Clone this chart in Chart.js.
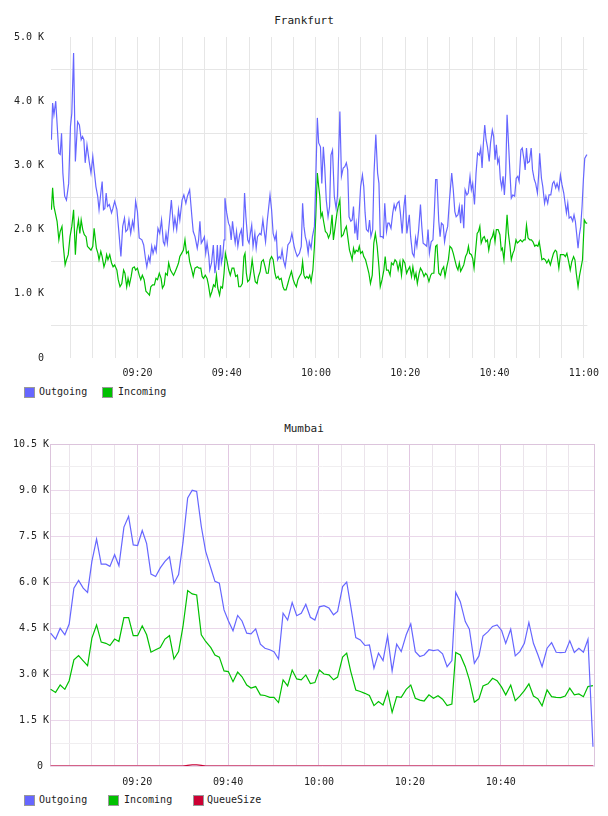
<!DOCTYPE html>
<html>
<head>
<meta charset="utf-8">
<script src="https://cdn.jsdelivr.net/npm/chart.js@4.4.1/dist/chart.umd.min.js"></script>
<style>
  body { margin: 0; background: #fff; }
  #wrap { position: relative; width: 608px; height: 816px; font-family: "DejaVu Sans Mono", monospace; color: #222; }
  canvas { position: absolute; left: 0; }
  .title { position: absolute; left: 0; width: 608px; text-align: center; font-size: 11px; line-height: 13px; }
  .box { position: absolute; width: 9px; height: 9px; border: 1px solid #999; }
  .lbl { position: absolute; font-size: 10px; line-height: 12px; }
</style>
</head>
<body>
<div id="wrap">
  <div class="title" style="top:14px">Frankfurt</div>
  <canvas id="ffm" width="608" height="385" style="top:0"></canvas>
  <div class="box" style="left:24px;top:387px;background:#6666ff"></div><span class="lbl" style="left:39px;top:386px">Outgoing</span>
  <div class="box" style="left:102px;top:387px;background:#00c000"></div><span class="lbl" style="left:118px;top:386px">Incoming</span>

  <div class="title" style="top:422px">Mumbai</div>
  <canvas id="bom" width="608" height="385" style="top:405px"></canvas>
  <div class="box" style="left:24px;top:795px;background:#6666ff"></div><span class="lbl" style="left:39px;top:794px">Outgoing</span>
  <div class="box" style="left:108px;top:795px;background:#00c000"></div><span class="lbl" style="left:124px;top:794px">Incoming</span>
  <div class="box" style="left:193px;top:795px;background:#cc0033"></div><span class="lbl" style="left:207px;top:794px">QueueSize</span>
</div>
<script>
// minutes after 09:00, values in K
const ffmOutT = [0.74,1.0,1.3,1.7,2.4,2.7,3.0,3.3,3.7,4.1,4.6,5.0,5.3,5.7,6.1,6.6,7.0,7.4,7.7,8.0,8.3,8.7,9.2,9.6,10.0,10.3,10.7,11.1,11.4,11.8,12.1,12.4,12.7,13.0,13.3,13.7,14.2,14.5,14.9,15.4,15.8,16.3,16.7,17.1,17.4,17.8,18.1,18.5,18.9,19.2,19.6,20.0,20.4,21.0,21.4,21.8,22.1,22.5,22.8,23.2,23.5,23.9,24.2,24.6,25.0,25.4,25.8,26.1,26.4,26.7,27.2,27.6,28.1,28.4,28.8,29.2,29.5,30.0,30.4,30.85,31.2,31.7,32.2,32.5,32.9,33.4,33.7,34.0,34.3,34.7,35.0,35.3,35.6,36.0,36.2,36.6,37.0,37.35,37.7,37.9,38.2,38.6,38.8,39.1,39.4,39.6,40.0,40.4,40.7,41.0,41.3,41.6,41.9,42.2,42.5,42.9,43.3,43.6,44.0,44.3,44.7,45.0,45.3,45.6,45.9,46.3,46.6,46.9,47.4,47.7,48.1,48.4,48.7,49.1,49.7,50.05,50.4,50.8,51.1,51.4,51.75,52.1,52.4,52.7,53.1,53.4,53.7,54.2,54.6,55.1,55.4,55.8,56.3,56.7,57.0,57.3,57.6,57.9,58.25,58.5,58.9,59.2,59.65,59.95,60.3,60.6,61.0,61.3,61.65,61.95,62.3,62.7,63.05,63.35,63.7,64.1,64.5,64.8,65.35,65.7,66.1,66.45,66.8,67.1,67.4,67.8,68.1,68.4,68.7,69.0,69.3,69.7,70.0,70.4,70.7,71.0,71.3,71.7,72.0,72.3,72.7,73.0,73.4,73.8,74.1,74.4,74.8,75.1,75.4,75.8,76.1,76.4,76.8,77.2,77.5,77.8,78.2,78.6,78.9,79.3,79.7,80.0,80.35,80.6,80.9,81.2,81.6,81.96,82.3,82.6,83.0,83.4,83.7,84.0,84.5,84.8,85.1,85.4,85.8,86.2,86.5,86.8,87.1,87.5,87.8,88.1,88.5,88.8,89.1,89.5,89.9,90.4,90.75,91.1,91.4,91.8,92.1,92.4,92.7,93.1,93.4,93.8,94.1,94.5,94.8,95.1,95.5,95.85,96.2,96.6,96.9,97.2,97.5,97.8,98.1,98.4,98.8,99.1,99.5,99.8,100.1,100.4,100.7,101.0,101.3,101.6,101.9,102.2,102.5,102.8,103.2,103.45,103.75,104.1,104.5,104.85,105.2,105.5,105.9,106.2,106.6,106.85,107.15,107.4,107.8,108.2,108.5,108.9,109.2,109.6,109.9,110.1,110.5,110.8,111.2,111.5,111.9,112.2,112.6,113.0,113.3,113.7,114.0,114.4,114.75,115.1,115.5,115.8,116.1,116.4,116.7,117.1,117.5,117.8,118.1,118.45,118.7,119.0,119.3,119.6,119.9,120.2,120.6,120.8];
const ffmOutK = [3.40,3.97,3.79,4.0,3.19,3.17,3.5,2.88,2.52,2.46,2.72,3.61,3.81,4.75,3.06,3.68,3.63,3.40,3.45,3.40,3.04,3.32,3.06,2.88,3.14,2.93,2.67,2.52,2.31,2.57,2.75,2.31,2.33,2.57,2.36,2.39,2.26,2.33,2.44,2.31,2.0,1.58,2.05,2.18,1.97,2.0,2.15,1.94,2.13,2.02,2.44,2.28,1.87,1.84,1.76,1.55,1.42,1.58,1.50,1.74,1.63,1.74,1.66,2.02,1.94,2.15,1.81,1.76,1.94,1.79,2.15,2.46,2.02,2.18,2.0,2.31,2.15,2.46,2.54,2.41,2.52,2.62,2.20,1.97,1.89,1.71,1.84,2.13,1.79,1.84,1.89,1.63,1.79,1.58,1.37,1.48,1.76,1.32,1.50,1.76,1.37,1.76,1.48,1.58,1.84,2.49,2.26,2.10,2.05,1.84,2.13,1.94,1.79,1.97,1.74,1.92,2.0,1.74,2.57,2.20,1.84,1.79,1.94,2.07,1.74,1.94,1.71,1.89,1.94,1.92,2.15,1.97,1.81,2.15,2.54,2.31,1.94,1.84,1.94,1.53,1.58,1.55,1.68,1.53,1.42,1.58,1.76,1.81,1.94,1.74,1.66,1.58,1.63,1.74,2.41,2.05,1.89,1.81,1.63,1.81,1.71,1.89,2.05,2.78,3.74,3.35,3.29,2.72,3.29,2.98,2.46,2.20,2.36,3.16,3.24,2.52,2.33,2.52,3.84,2.83,2.96,2.98,3.04,2.93,2.20,2.13,2.15,2.36,1.94,2.10,1.84,2.31,2.67,2.85,2.67,2.26,2.0,1.97,2.15,1.89,2.0,2.88,3.48,2.88,2.72,1.89,1.89,1.87,2.41,1.97,2.10,2.10,2.02,2.26,2.39,2.31,2.41,2.44,2.26,1.94,2.36,2.54,1.94,2.07,2.23,1.89,1.63,1.58,1.87,1.74,2.0,2.39,2.05,1.79,1.76,1.74,2.0,1.63,1.81,1.84,2.26,2.78,2.78,2.13,1.89,2.10,2.07,1.81,1.94,2.05,2.46,2.88,2.62,2.28,2.20,2.23,2.36,2.10,2.39,2.02,2.62,2.54,2.57,2.83,2.62,2.72,2.39,2.88,3.19,3.16,3.27,2.96,3.35,3.63,3.40,3.29,3.06,3.35,3.55,3.45,3.09,3.32,3.04,3.11,2.78,2.65,2.83,2.54,2.88,3.79,3.24,2.88,2.49,2.54,2.52,2.80,2.83,2.75,3.24,3.27,3.09,2.93,3.27,3.04,3.06,3.27,2.93,2.78,2.72,2.57,2.88,3.19,2.80,2.67,2.41,2.52,2.41,2.54,2.54,2.72,2.75,2.65,2.72,2.62,2.85,2.70,2.57,2.41,2.26,2.41,2.18,2.20,2.13,2.23,2.13,1.89,1.71,1.92,2.05,2.36,2.78,3.11,3.16,3.16];
const ffmInT = [0.74,1.0,1.3,1.6,2.0,2.4,2.7,3.1,3.4,3.8,4.1,4.5,4.9,5.3,5.7,6.1,6.4,6.8,7.1,7.4,7.75,8.1,8.5,8.8,9.2,9.6,10.0,10.3,10.8,11.15,11.4,11.8,12.1,12.5,12.85,13.1,13.4,13.8,14.2,14.55,14.9,15.4,15.7,16.1,16.5,16.9,17.2,17.6,17.9,18.2,18.6,18.9,19.3,19.6,20.0,20.4,20.75,21.1,21.5,21.9,22.3,22.7,23.0,23.4,23.8,24.15,24.5,24.9,25.3,25.6,26.0,26.3,26.7,27.0,27.4,27.8,28.1,28.5,28.9,29.2,29.5,29.9,30.3,30.65,31.0,31.4,31.7,32.2,32.5,32.9,33.4,33.8,34.2,34.5,34.8,35.2,35.6,35.9,36.3,36.7,37.05,37.4,37.7,38.0,38.4,38.7,39.05,39.4,39.7,40.1,40.45,40.8,41.2,41.6,42.0,42.4,42.7,43.1,43.5,43.85,44.1,44.4,44.7,45.1,45.4,45.7,46.1,46.4,46.8,47.1,47.5,47.8,48.2,48.6,48.9,49.3,49.7,50.05,50.4,50.8,51.1,51.5,51.8,52.2,52.6,52.9,53.3,53.7,54.0,54.5,54.9,55.2,55.6,55.95,56.3,56.7,57.0,57.3,57.6,57.95,58.3,58.6,58.9,59.3,59.65,59.95,60.3,60.6,60.85,61.1,61.4,61.7,62.1,62.5,62.8,63.2,63.6,63.9,64.3,64.7,65.0,65.35,65.7,66.1,66.45,66.8,67.2,67.5,67.8,68.1,68.4,68.7,69.0,69.4,69.7,70.0,70.4,70.7,71.1,71.5,71.85,72.2,72.6,72.95,73.3,73.7,74.1,74.4,74.8,75.2,75.5,75.8,76.2,76.6,76.9,77.3,77.7,78.05,78.4,78.8,79.15,79.5,79.9,80.3,80.6,81.0,81.4,81.7,82.1,82.4,82.7,83.1,83.4,83.8,84.2,84.55,84.9,85.3,85.7,86.0,86.4,86.8,87.1,87.5,87.9,88.2,88.6,88.9,89.3,89.65,90.0,90.4,90.75,91.1,91.5,91.8,92.1,92.4,92.75,93.1,93.5,93.85,94.15,94.4,94.8,95.1,95.4,95.7,96.1,96.4,96.7,97.0,97.4,97.7,98.05,98.4,98.7,99.1,99.5,99.8,100.1,100.4,100.8,101.2,101.5,101.75,102.1,102.5,102.8,103.1,103.45,103.75,104.1,104.4,104.8,105.1,105.4,105.8,106.2,106.55,106.85,107.15,107.5,107.9,108.25,108.6,109.0,109.3,109.7,110.0,110.3,110.6,111.0,111.35,111.7,112.1,112.5,112.8,113.2,113.6,113.9,114.4,114.75,115.1,115.5,115.85,116.2,116.6,116.95,117.3,117.7,118.0,118.3,118.7,119.0,119.4,119.7,119.9,120.1,120.5,120.8];
const ffmInK = [2.31,2.65,2.36,2.26,2.13,1.84,1.97,2.05,1.74,1.45,1.53,1.61,1.89,2.05,2.31,1.61,1.97,2.15,1.94,2.15,2.0,1.92,1.89,1.74,1.71,1.68,1.74,2.02,1.71,1.63,1.53,1.66,1.58,1.42,1.50,1.61,1.53,1.61,1.48,1.42,1.45,1.37,1.22,1.11,1.16,1.37,1.32,1.11,1.24,1.14,1.27,1.40,1.42,1.37,1.40,1.29,1.22,1.29,1.22,1.04,1.01,0.98,1.11,1.14,1.14,1.24,1.22,1.32,1.24,1.09,1.14,1.32,1.29,1.48,1.37,1.32,1.29,1.35,1.42,1.48,1.58,1.63,1.68,1.84,1.63,1.66,1.50,1.37,1.27,1.40,1.42,1.40,1.40,1.27,1.24,1.29,1.24,1.14,0.96,1.04,1.14,1.11,1.29,1.09,0.98,1.11,1.09,1.32,1.63,1.50,1.37,1.29,1.40,1.40,1.27,1.29,1.11,1.11,1.16,1.58,1.63,1.32,1.19,1.22,1.35,1.53,1.32,1.19,1.16,1.27,1.35,1.50,1.53,1.42,1.32,1.32,1.53,1.58,1.53,1.32,1.24,1.27,1.22,1.24,1.11,1.06,1.06,1.16,1.24,1.35,1.22,1.16,1.11,1.22,1.27,1.32,1.50,1.29,1.24,1.27,1.24,1.29,1.19,1.37,1.74,2.20,2.88,2.67,2.52,2.20,2.26,2.13,1.97,1.94,1.87,1.94,2.23,1.84,2.05,2.26,2.36,2.46,1.89,1.92,2.0,2.05,1.84,1.68,1.61,1.53,1.71,1.63,1.68,1.66,1.74,1.63,1.66,1.58,1.53,1.42,1.32,1.16,1.29,1.79,1.94,1.74,1.42,1.11,1.22,1.37,1.58,1.37,1.37,1.29,1.48,1.45,1.53,1.50,1.37,1.50,1.29,1.53,1.48,1.32,1.37,1.42,1.27,1.42,1.24,1.32,1.16,1.32,1.40,1.35,1.27,1.32,1.29,1.19,1.29,1.32,1.32,1.74,1.76,1.32,1.29,1.37,1.42,1.27,1.42,1.53,1.74,1.71,1.63,1.53,1.42,1.37,1.48,1.35,1.40,1.45,1.58,1.63,1.74,1.63,1.61,1.55,1.40,1.63,1.94,1.97,2.05,1.79,1.87,1.89,1.81,1.84,1.68,1.84,1.89,1.97,1.81,2.0,2.0,1.92,1.68,1.71,1.53,1.89,2.23,1.94,1.74,1.53,1.63,1.68,1.84,1.79,1.81,1.84,1.81,1.84,1.84,2.07,1.87,1.84,1.84,1.81,1.74,1.76,1.74,1.81,1.68,1.53,1.55,1.53,1.48,1.53,1.45,1.53,1.63,1.68,1.66,1.40,1.61,1.61,1.61,1.58,1.63,1.50,1.37,1.50,1.58,1.53,1.32,1.11,1.27,1.42,1.53,1.84,2.15,2.10,2.10];

const bomT = [0.93,2.03,3.04,4.07,5.02,6.06,7.09,8.11,9.07,10.02,11.05,12.07,13.1,13.99,15.02,15.97,17.07,18.1,19.12,20.08,21.1,22.07,23.02,24.05,25.07,26.1,27.1,28.08,29.1,30.07,31.1,32.1,33.08,34.1,35.06,36.2,37.1,38.07,39.1,40.05,41.08,42.1,43.06,44.1,45.04,46.07,47.1,48.1,49.16,50.1,51.1,52.1,53.1,54.1,55.1,56.1,57.1,58.1,59.1,60.1,61.1,62.2,63.2,64.1,65.2,66.1,67.0,68.1,69.1,70.1,71.1,72.1,73.1,74.1,75.1,76.1,77.1,78.1,79.2,80.2,81.2,82.2,83.15,84.2,85.2,86.2,87.2,88.2,89.25,90.1,91.1,92.2,93.1,94.2,95.2,96.1,97.2,98.2,99.2,100.2,101.1,102.2,103.2,104.2,105.2,106.2,107.2,108.2,109.1,110.2,111.2,112.2,113.2,114.2,115.2,116.2,117.2,118.2,119.2,120.3];
const bomOutK = [4.33,4.14,4.49,4.28,4.63,5.80,6.05,5.80,5.66,6.67,7.40,6.58,6.58,6.51,6.89,6.53,7.79,8.14,7.21,7.19,7.68,7.25,6.26,6.18,6.46,6.67,6.82,5.96,6.24,7.29,8.74,8.99,8.95,7.81,7.00,6.45,6.02,5.96,5.09,4.74,4.41,4.91,4.73,4.33,4.31,4.47,3.97,3.84,3.79,3.73,3.49,4.98,4.76,5.33,4.90,4.98,5.27,4.85,4.76,5.19,5.23,5.15,4.93,5.04,5.85,6.00,5.20,4.19,4.11,3.93,3.95,3.19,3.68,3.44,4.24,3.10,3.97,3.73,4.28,4.63,3.73,3.57,3.62,3.79,3.76,3.79,3.66,3.24,3.44,5.66,5.36,4.71,4.46,3.35,3.59,4.24,4.38,4.55,4.60,4.42,4.00,4.46,3.59,3.73,4.00,4.68,4.00,3.62,3.24,3.84,4.02,3.71,3.70,3.71,4.08,3.70,3.84,3.71,4.13,0.63];
const bomInK = [2.50,2.40,2.64,2.50,2.78,3.46,3.60,3.43,3.27,4.17,4.60,4.04,4.00,3.93,4.14,4.06,4.84,4.84,4.25,4.25,4.57,4.28,3.71,3.79,3.86,4.14,4.25,3.49,3.73,4.55,5.72,5.61,5.58,4.28,4.06,3.86,3.62,3.55,3.10,3.08,2.75,3.06,2.91,2.64,2.54,2.59,2.32,2.30,2.24,2.24,2.07,2.81,2.61,3.13,2.84,2.81,2.97,2.69,2.72,3.13,3.00,2.97,2.81,2.90,3.55,3.68,3.08,2.48,2.43,2.37,2.30,1.97,2.10,1.99,2.43,1.75,2.26,2.24,2.50,2.64,2.21,2.15,2.12,2.32,2.21,2.29,2.18,1.97,2.02,3.70,3.62,3.24,2.81,2.08,2.19,2.61,2.68,2.86,2.78,2.57,2.32,2.64,2.13,2.28,2.46,2.68,2.28,2.19,1.96,2.48,2.26,2.24,2.23,2.28,2.54,2.32,2.35,2.26,2.59,2.62];
const bomQueueK = [0,0,0,0,0,0,0,0,0,0,0,0,0,0,0,0,0,0,0,0,0,0,0,0,0,0,0,0,0,0,0.02,0.04,0.04,0.02,0,0,0,0,0,0,0,0,0,0,0,0,0,0,0,0,0,0,0,0,0,0,0,0,0,0,0,0,0,0,0,0,0,0,0,0,0,0,0,0,0,0,0,0,0,0,0,0,0,0,0,0,0,0,0,0,0,0,0,0,0,0,0,0,0,0,0,0,0,0,0,0,0,0,0,0,0,0,0,0,0,0,0,0,0,0];

const ffmXTicks = [20, 40, 60, 80, 100, 120];
const ffmXLabels = ['09:20', '09:40', '10:00', '10:20', '10:40', '11:00'];
const ffmYTicks = [0, 1000, 2000, 3000, 4000, 5000];
const ffmYLabels = ['0', '1.0 K', '2.0 K', '3.0 K', '4.0 K', '5.0 K'];
const bomXTicks = [20, 40, 60, 80, 100];
const bomXLabels = ['09:20', '09:40', '10:00', '10:20', '10:40'];
const bomYTicks = [0, 1500, 3000, 4500, 6000, 7500, 9000, 10500];
const bomYLabels = ['0 ', '1.5 K', '3.0 K', '4.5 K', '6.0 K', '7.5 K', '9.0 K', '10.5 K'];

const BLUE = '#6666ff', GREEN = '#00c000', RED = '#cc0033';
const tickFont = { family: 'DejaVu Sans Mono', size: 10 };

function pts(ts, ks) { return ts.map((t, i) => ({ x: t, y: ks[i] * 1000 })); }
function steps(from, to, step) { const a = []; for (let v = from; v <= to + 1e-9; v += step) a.push(v); return a; }
function pick(v, at, labels) { const i = at.indexOf(v); return i < 0 ? '' : labels[i]; }
function line(label, data, color) {
    return { label, data, borderColor: color, backgroundColor: color, borderWidth: 1.2, pointRadius: 0, tension: 0 };
}

// Frankfurt
new Chart(document.getElementById('ffm'), {
    type: 'line',
    data: { datasets: [line('Outgoing', pts(ffmOutT, ffmOutK), BLUE), line('Incoming', pts(ffmInT, ffmInK), GREEN)] },
    options: {
        responsive: false, animation: false, events: [],
        layout: { padding: { top: 37, left: 0, right: 14.7, bottom: 0 } },
        plugins: { legend: { display: false }, title: { display: false }, tooltip: { enabled: false } },
        scales: {
            x: {
                type: 'linear', min: 0.64, max: 120.8,
                afterBuildTicks: s => { s.ticks = steps(5, 120, 5).map(v => ({ value: v })); },
                afterFit: s => { s.height = 27; },
                ticks: { autoSkip: false, maxRotation: 0, padding: 9, color: '#222', font: tickFont, callback: v => pick(v, ffmXTicks, ffmXLabels) },
                grid: { color: '#e6e6e6', drawTicks: false },
                border: { display: false }
            },
            y: {
                min: 0, max: 5000,
                afterBuildTicks: s => { s.ticks = steps(0, 5000, 500).map(v => ({ value: v })); },
                afterFit: s => { s.width = 51; },
                ticks: { autoSkip: false, padding: 7, color: '#222', font: tickFont, callback: v => pick(v, ffmYTicks, ffmYLabels) },
                grid: { drawTicks: false, color: c => (c.tick && c.tick.value % 1000 === 500) ? '#e6e6e6' : 'rgba(0,0,0,0)' },
                border: { display: false }
            }
        }
    }
});

// frame around the Mumbai plot area
const frame = {
    id: 'frame',
    beforeDatasetsDraw(chart) {
        const { ctx, chartArea: a } = chart;
        ctx.save();
        ctx.strokeStyle = '#dcc4dc';
        ctx.lineWidth = 1;
        ctx.strokeRect(Math.round(a.left) + 0.5, Math.round(a.top) + 0.5, Math.round(a.right - a.left) - 1, Math.round(a.bottom - a.top) - 1);
        ctx.restore();
    }
};

// Mumbai
new Chart(document.getElementById('bom'), {
    type: 'line',
    data: { datasets: [
        line('Outgoing', pts(bomT, bomOutK), BLUE),
        line('Incoming', pts(bomT, bomInK), GREEN),
        line('QueueSize', pts(bomT, bomQueueK), RED)
    ] },
    options: {
        responsive: false, animation: false, events: [],
        layout: { padding: { top: 39, left: 0, right: 13, bottom: 0 } },
        plugins: { legend: { display: false }, title: { display: false }, tooltip: { enabled: false } },
        scales: {
            x: {
                type: 'linear', min: 0.8, max: 120.75,
                afterBuildTicks: s => { s.ticks = steps(5, 115, 5).map(v => ({ value: v })); },
                afterFit: s => { s.height = 24; },
                ticks: { autoSkip: false, maxRotation: 0, padding: 10, color: '#222', font: tickFont, callback: v => pick(v, bomXTicks, bomXLabels) },
                grid: { drawTicks: false, color: c => (c.tick && c.tick.value % 20 === 0) ? '#e2c8e2' : '#ebe4eb' },
                border: { display: false }
            },
            y: {
                min: 0, max: 10500,
                afterBuildTicks: s => { s.ticks = steps(0, 10500, 750).map(v => ({ value: v })); },
                afterFit: s => { s.width = 50; },
                ticks: { autoSkip: false, padding: 1, color: '#222', font: tickFont, callback: v => pick(v, bomYTicks, bomYLabels) },
                grid: { drawTicks: false, color: c => (c.tick && c.tick.value % 1500 === 0) ? '#ead8ea' : '#f0eef0' },
                border: { display: false }
            }
        }
    },
    plugins: [frame]
});
</script>
</body>
</html>
